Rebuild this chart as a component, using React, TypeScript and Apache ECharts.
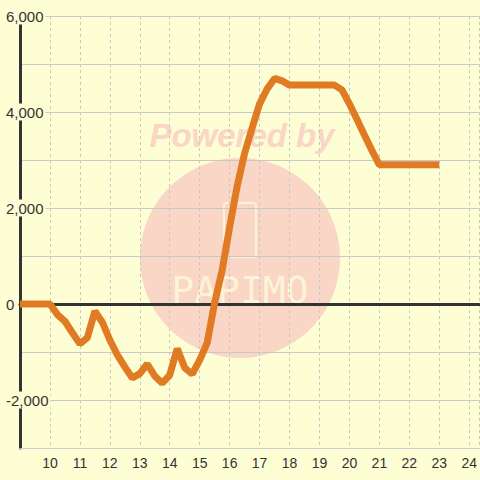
import React, { useEffect, useRef } from "react";
import * as echarts from "echarts";

const xValues = [
  9, 9.25, 9.5, 9.75, 10, 10.25, 10.5, 10.75, 11, 11.25, 11.5, 11.75, 12,
  12.25, 12.5, 12.75, 13, 13.25, 13.5, 13.75, 14, 14.25, 14.5, 14.75, 15,
  15.25, 15.5, 15.75, 16, 16.25, 16.5, 16.75, 17, 17.25, 17.5, 17.75, 18,
  18.25, 18.5, 18.75, 19, 19.25, 19.5, 19.75, 20, 20.25, 20.5, 20.75, 21,
  21.25, 21.5, 21.75, 22, 22.25, 22.5, 22.75, 23,
];
const yValues = [
  0, 0, 0, 0, 0, -220, -360, -600, -830, -700, -150, -380, -750,
  -1060, -1310, -1540, -1450, -1250, -1500, -1650, -1480, -930, -1330, -1460, -1170,
  -810, 30, 700, 1600, 2450, 3140, 3660, 4170, 4480, 4700, 4650, 4560,
  4560, 4560, 4560, 4560, 4560, 4560, 4460, 4170, 3850, 3520, 3200, 2900,
  2900, 2900, 2900, 2900, 2900, 2900, 2900, 2900,
];
const yLabelValues = [-2000, 0, 2000, 4000, 6000];

const BG = "#fdfed3";

export default function App() {
  const ref = useRef<HTMLDivElement>(null);
  useEffect(() => {
    if (!ref.current) return;
    const chart = echarts.init(ref.current, null, { renderer: "svg" });
    const data = xValues.map((x, i) => [x, yValues[i]]);
    chart.setOption({
      animation: false,
      backgroundColor: BG,
      textStyle: { fontFamily: "Liberation Sans, Arial, sans-serif" },
      grid: { left: 20, right: 0, top: 16, bottom: 32 },
      graphic: [
        {
          type: "circle",
          z: -10,
          shape: { cx: 240, cy: 258, r: 100 },
          style: { fill: "#fad6c6" },
          silent: true,
        },
        {
          type: "text",
          z: -10,
          x: 242,
          y: 135,
          style: {
            text: "Powered by",
            fill: "#fbd5c6",
            font: "italic bold 33px Liberation Sans, Arial, sans-serif",
            align: "center",
            verticalAlign: "middle",
          },
          silent: true,
        },
        {
          type: "rect",
          z: -9,
          shape: { x: 224, y: 203, width: 32, height: 54, r: 3 },
          style: { fill: "none", stroke: "#fdf3d6", lineWidth: 2 },
          silent: true,
        },
        {
          type: "text",
          z: -9,
          x: 240,
          y: 290,
          style: {
            text: "PAPIMO",
            fill: "#fdf3d6",
            font: "300 38px DejaVu Sans Mono, monospace",
            align: "center",
            verticalAlign: "middle",
          },
          silent: true,
        },
      ],
      xAxis: [
        {
          type: "value",
          min: 9,
          max: 24.33,
          interval: 1,
          axisLine: { onZero: false, lineStyle: { color: "#cccccc", width: 1 } },
          axisTick: { show: false },
          axisLabel: {
            color: "#333",
            fontSize: 14,
            margin: 8,
            showMinLabel: false,
            showMaxLabel: false,
          },
          splitLine: {
            show: true,
            lineStyle: { color: "#c8c8c8", type: [3, 3], width: 1 },
          },
        },
        {
          type: "value",
          min: 9,
          max: 24.33,
          position: "bottom",
          axisLine: { show: true, onZero: true, lineStyle: { color: "#333", width: 3 } },
          axisTick: { show: false },
          axisLabel: { show: false },
          splitLine: { show: false },
        },
      ],
      yAxis: {
        type: "value",
        min: -3000,
        max: 6000,
        interval: 1000,
        axisLine: { show: true, lineStyle: { color: "#333", width: 3 } },
        axisTick: { show: false },
        axisLabel: {
          color: "#333",
          fontSize: 15,
          align: "left",
          margin: 16,
          backgroundColor: BG,
          padding: [1, 2],
          formatter: (v: number) =>
            yLabelValues.includes(v) ? v.toLocaleString("en-US") : "",
        },
        splitLine: { show: true, lineStyle: { color: "#c8c8c8", width: 1 } },
      },
      series: [
        {
          type: "line",
          xAxisIndex: 0,
          data,
          showSymbol: false,
          symbol: "none",
          lineStyle: { color: "#e07b24", width: 7 },
          z: 5,
        },
      ],
    });
    return () => chart.dispose();
  }, []);
  return (
    <div
      ref={ref}
      style={{ position: "fixed", left: 0, top: 0, width: 480, height: 480 }}
    />
  );
}
